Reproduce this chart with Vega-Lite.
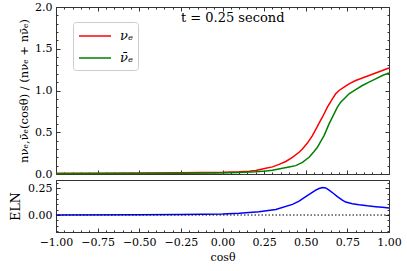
{
  "$schema": "https://vega.github.io/schema/vega-lite/v6.json",
  "padding": {"left": 9, "top": 0, "right": 5, "bottom": 0},
  "background": "white",
  "spacing": 6,
  "bounds": "flush",
  "config": {
    "font": "DejaVu Serif",
    "view": {"stroke": "#333", "strokeWidth": 1},
    "axis": {
      "labelFont": "DejaVu Serif", "labelFontSize": 11, "labelColor": "black",
      "titleFont": "DejaVu Serif", "titleFontSize": 11, "titleFontWeight": "normal", "titleColor": "black",
      "domainColor": "#333", "tickColor": "#333", "tickSize": -4, "labelPadding": 8, "grid": false,
      "labelOverlap": false, "labelFlush": false
    }
  },
  "datasets": {
    "dens": [
      {"x": -1.0, "v": 0.008, "s": "νₑ"}, {"x": -0.75, "v": 0.009, "s": "νₑ"}, {"x": -0.5, "v": 0.011, "s": "νₑ"},
      {"x": -0.25, "v": 0.014, "s": "νₑ"}, {"x": 0.0, "v": 0.02, "s": "νₑ"}, {"x": 0.1, "v": 0.027, "s": "νₑ"},
      {"x": 0.16, "v": 0.034, "s": "νₑ"}, {"x": 0.2, "v": 0.042, "s": "νₑ"}, {"x": 0.26, "v": 0.068, "s": "νₑ"},
      {"x": 0.3, "v": 0.085, "s": "νₑ"}, {"x": 0.34, "v": 0.115, "s": "νₑ"}, {"x": 0.38, "v": 0.15, "s": "νₑ"},
      {"x": 0.42, "v": 0.2, "s": "νₑ"}, {"x": 0.46, "v": 0.26, "s": "νₑ"}, {"x": 0.48, "v": 0.3, "s": "νₑ"},
      {"x": 0.51, "v": 0.37, "s": "νₑ"}, {"x": 0.54, "v": 0.46, "s": "νₑ"}, {"x": 0.57, "v": 0.57, "s": "νₑ"},
      {"x": 0.58, "v": 0.61, "s": "νₑ"}, {"x": 0.6, "v": 0.68, "s": "νₑ"}, {"x": 0.63, "v": 0.8, "s": "νₑ"},
      {"x": 0.66, "v": 0.9, "s": "νₑ"}, {"x": 0.68, "v": 0.96, "s": "νₑ"}, {"x": 0.7, "v": 1.0, "s": "νₑ"},
      {"x": 0.73, "v": 1.04, "s": "νₑ"}, {"x": 0.76, "v": 1.08, "s": "νₑ"}, {"x": 0.8, "v": 1.12, "s": "νₑ"},
      {"x": 0.84, "v": 1.15, "s": "νₑ"}, {"x": 0.88, "v": 1.18, "s": "νₑ"}, {"x": 0.92, "v": 1.21, "s": "νₑ"},
      {"x": 0.96, "v": 1.24, "s": "νₑ"}, {"x": 1.0, "v": 1.27, "s": "νₑ"},
      {"x": -1.0, "v": 0.004, "s": "ν̄ₑ"}, {"x": -0.75, "v": 0.005, "s": "ν̄ₑ"}, {"x": -0.5, "v": 0.006, "s": "ν̄ₑ"},
      {"x": -0.25, "v": 0.008, "s": "ν̄ₑ"}, {"x": 0.0, "v": 0.012, "s": "ν̄ₑ"}, {"x": 0.1, "v": 0.017, "s": "ν̄ₑ"},
      {"x": 0.2, "v": 0.026, "s": "ν̄ₑ"}, {"x": 0.26, "v": 0.035, "s": "ν̄ₑ"}, {"x": 0.3, "v": 0.045, "s": "ν̄ₑ"},
      {"x": 0.36, "v": 0.07, "s": "ν̄ₑ"}, {"x": 0.4, "v": 0.085, "s": "ν̄ₑ"}, {"x": 0.44, "v": 0.1, "s": "ν̄ₑ"},
      {"x": 0.48, "v": 0.14, "s": "ν̄ₑ"}, {"x": 0.52, "v": 0.2, "s": "ν̄ₑ"}, {"x": 0.55, "v": 0.27, "s": "ν̄ₑ"},
      {"x": 0.57, "v": 0.32, "s": "ν̄ₑ"}, {"x": 0.59, "v": 0.39, "s": "ν̄ₑ"}, {"x": 0.61, "v": 0.46, "s": "ν̄ₑ"},
      {"x": 0.64, "v": 0.6, "s": "ν̄ₑ"}, {"x": 0.67, "v": 0.72, "s": "ν̄ₑ"}, {"x": 0.69, "v": 0.8, "s": "ν̄ₑ"},
      {"x": 0.71, "v": 0.86, "s": "ν̄ₑ"}, {"x": 0.74, "v": 0.92, "s": "ν̄ₑ"}, {"x": 0.76, "v": 0.96, "s": "ν̄ₑ"},
      {"x": 0.8, "v": 1.01, "s": "ν̄ₑ"}, {"x": 0.84, "v": 1.06, "s": "ν̄ₑ"}, {"x": 0.88, "v": 1.1, "s": "ν̄ₑ"},
      {"x": 0.92, "v": 1.14, "s": "ν̄ₑ"}, {"x": 0.96, "v": 1.18, "s": "ν̄ₑ"}, {"x": 1.0, "v": 1.21, "s": "ν̄ₑ"}
    ],
    "eln": [
      {"x": -1.0, "e": 0.0}, {"x": -0.5, "e": 0.002}, {"x": -0.25, "e": 0.004}, {"x": 0.0, "e": 0.01},
      {"x": 0.1, "e": 0.016}, {"x": 0.22, "e": 0.03}, {"x": 0.32, "e": 0.052}, {"x": 0.42, "e": 0.1},
      {"x": 0.46, "e": 0.13}, {"x": 0.5, "e": 0.174}, {"x": 0.53, "e": 0.205}, {"x": 0.56, "e": 0.235},
      {"x": 0.58, "e": 0.25}, {"x": 0.6, "e": 0.26}, {"x": 0.62, "e": 0.255}, {"x": 0.64, "e": 0.235},
      {"x": 0.665, "e": 0.205}, {"x": 0.69, "e": 0.174}, {"x": 0.72, "e": 0.14}, {"x": 0.74, "e": 0.122},
      {"x": 0.78, "e": 0.107}, {"x": 0.82, "e": 0.097}, {"x": 0.87, "e": 0.087}, {"x": 0.92, "e": 0.079},
      {"x": 0.96, "e": 0.073}, {"x": 1.0, "e": 0.067}
    ],
    "label": [{"x": -0.25, "y": 1.87, "t": "t = 0.25 second"}],
    "zero": [{"y": 0}]
  },
  "vconcat": [
    {
      "width": 333, "height": 167,
      "resolve": {"axis": {"x": "independent", "y": "independent"}},
      "layer": [
        {
          "data": {"name": "dens"},
          "mark": {"type": "line", "strokeWidth": 1.5},
          "encoding": {
            "x": {"field": "x", "type": "quantitative", "scale": {"domain": [-1, 1], "nice": false},
                  "axis": {"orient": "bottom", "labels": false, "title": null,
                           "values": [-1, -0.95, -0.9, -0.85, -0.8, -0.75, -0.7, -0.65, -0.6, -0.55, -0.5, -0.45, -0.4, -0.35, -0.3, -0.25, -0.2, -0.15, -0.1, -0.05, 0, 0.05, 0.1, 0.15, 0.2, 0.25, 0.3, 0.35, 0.4, 0.45, 0.5, 0.55, 0.6, 0.65, 0.7, 0.75, 0.8, 0.85, 0.9, 0.95, 1],
                           "tickSize": {"condition": {"test": "abs(datum.value*4-round(datum.value*4))<1e-6", "value": -4}, "value": -2}}},
            "y": {"field": "v", "type": "quantitative", "scale": {"domain": [0, 2], "nice": false},
                  "axis": {"orient": "left",
                           "values": [0, 0.1, 0.2, 0.3, 0.4, 0.5, 0.6, 0.7, 0.8, 0.9, 1, 1.1, 1.2, 1.3, 1.4, 1.5, 1.6, 1.7, 1.8, 1.9, 2],
                           "labelExpr": "abs(datum.value*2-round(datum.value*2))<1e-6 ? format(datum.value, '.1f') : ''",
                           "tickSize": {"condition": {"test": "abs(datum.value*2-round(datum.value*2))<1e-6", "value": -4}, "value": -2},
                           "title": "nνₑ,ν̄ₑ(cosθ) / (nνₑ + nν̄ₑ)", "titleFontSize": 11.5, "titlePadding": 5}},
            "color": {"field": "s", "type": "nominal",
                      "scale": {"domain": ["νₑ", "ν̄ₑ"], "range": ["#ff0000", "#008000"]},
                      "legend": {"title": null, "orient": "none", "legendX": 17, "legendY": 15,
                                 "symbolType": "M-2,0H2", "symbolSize": 256, "symbolStrokeWidth": 1.5, "symbolOffset": 8,
                                 "labelFont": "DejaVu Serif", "labelFontStyle": "italic", "labelFontSize": 13,
                                 "padding": 5, "rowPadding": 6, "fillColor": "white", "strokeColor": "#ccc",
                                 "cornerRadius": 3, "labelOffset": 16}}
          }
        },
        {
          "data": {"name": "label"},
          "mark": {"type": "text", "align": "left", "baseline": "middle", "fontSize": 13, "font": "DejaVu Serif"},
          "encoding": {
            "x": {"field": "x", "type": "quantitative", "scale": {"domain": [-1, 1], "nice": false},
                  "axis": {"orient": "top", "labels": false, "title": null, "domain": false,
                           "values": [-1, -0.95, -0.9, -0.85, -0.8, -0.75, -0.7, -0.65, -0.6, -0.55, -0.5, -0.45, -0.4, -0.35, -0.3, -0.25, -0.2, -0.15, -0.1, -0.05, 0, 0.05, 0.1, 0.15, 0.2, 0.25, 0.3, 0.35, 0.4, 0.45, 0.5, 0.55, 0.6, 0.65, 0.7, 0.75, 0.8, 0.85, 0.9, 0.95, 1],
                           "tickSize": {"condition": {"test": "abs(datum.value*4-round(datum.value*4))<1e-6", "value": -4}, "value": -2}}},
            "y": {"field": "y", "type": "quantitative", "scale": {"domain": [0, 2], "nice": false},
                  "axis": {"orient": "right", "labels": false, "title": null, "domain": false,
                           "values": [0, 0.1, 0.2, 0.3, 0.4, 0.5, 0.6, 0.7, 0.8, 0.9, 1, 1.1, 1.2, 1.3, 1.4, 1.5, 1.6, 1.7, 1.8, 1.9, 2],
                           "tickSize": {"condition": {"test": "abs(datum.value*2-round(datum.value*2))<1e-6", "value": -4}, "value": -2}}},
            "text": {"field": "t"}
          }
        }
      ]
    },
    {
      "width": 333, "height": 52,
      "resolve": {"axis": {"x": "independent", "y": "independent"}},
      "layer": [
        {
          "data": {"name": "eln"},
          "mark": {"type": "line", "color": "#0000ff", "strokeWidth": 1.5},
          "encoding": {
            "x": {"field": "x", "type": "quantitative", "scale": {"domain": [-1, 1], "nice": false},
                  "axis": {"orient": "bottom",
                           "values": [-1, -0.95, -0.9, -0.85, -0.8, -0.75, -0.7, -0.65, -0.6, -0.55, -0.5, -0.45, -0.4, -0.35, -0.3, -0.25, -0.2, -0.15, -0.1, -0.05, 0, 0.05, 0.1, 0.15, 0.2, 0.25, 0.3, 0.35, 0.4, 0.45, 0.5, 0.55, 0.6, 0.65, 0.7, 0.75, 0.8, 0.85, 0.9, 0.95, 1],
                           "labelExpr": "abs(datum.value*4-round(datum.value*4))<1e-6 ? format(datum.value, '.2f') : ''",
                           "tickSize": {"condition": {"test": "abs(datum.value*4-round(datum.value*4))<1e-6", "value": -4}, "value": -2},
                           "title": "cosθ", "titlePadding": 2}},
            "y": {"field": "e", "type": "quantitative", "scale": {"domain": [-0.16, 0.33], "nice": false, "zero": false},
                  "axis": {"orient": "left",
                           "values": [-0.15, -0.1, -0.05, 0, 0.05, 0.1, 0.15, 0.2, 0.25, 0.3],
                           "labelExpr": "abs(datum.value*4-round(datum.value*4))<1e-6 ? format(datum.value, '.2f') : ''",
                           "tickSize": {"condition": {"test": "abs(datum.value*4-round(datum.value*4))<1e-6", "value": -4}, "value": -2},
                           "title": "ELN", "titleFontSize": 12.5, "titlePadding": 5}}
          }
        },
        {
          "data": {"name": "zero"},
          "mark": {"type": "rule", "color": "black", "strokeDash": [1.5, 2], "strokeWidth": 1},
          "encoding": {
            "y": {"field": "y", "type": "quantitative",
                  "axis": {"orient": "right", "labels": false, "title": null, "domain": false,
                           "values": [-0.15, -0.1, -0.05, 0, 0.05, 0.1, 0.15, 0.2, 0.25, 0.3],
                           "tickSize": {"condition": {"test": "abs(datum.value*4-round(datum.value*4))<1e-6", "value": -4}, "value": -2}}}
          }
        }
      ]
    }
  ]
}
